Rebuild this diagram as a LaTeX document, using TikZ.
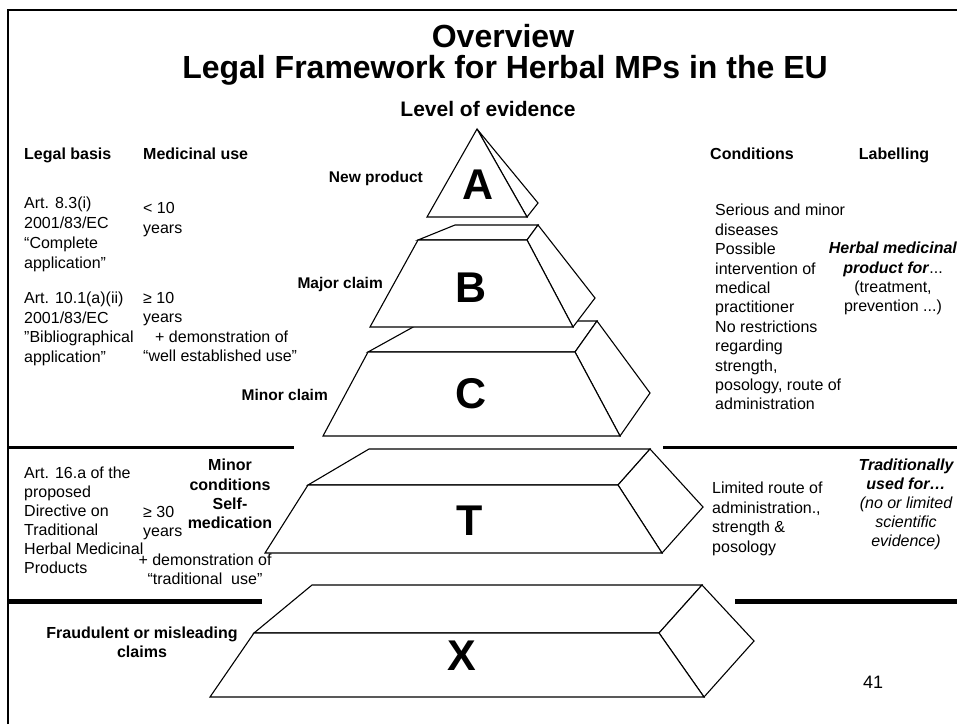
\documentclass[tikz,border=0pt]{standalone}
\usepackage{fontspec}
\setmainfont{Liberation Sans}
\usetikzlibrary{positioning}

\tikzset{
  face/.style={draw, fill=white, line width=1.1pt, line join=miter},
  rule/.style={line width=3pt},
  rulethick/.style={line width=5pt},
  ttl/.style={font=\bfseries\fontsize{32}{36}\selectfont, inner sep=0},
  hdr/.style={font=\bfseries\fontsize{16}{19.4}\selectfont, inner sep=0},
  lbl/.style={font=\bfseries\fontsize{15.5}{19}\selectfont, inner sep=0},
  txt/.style={font=\fontsize{16}{19.4}\selectfont, inner sep=0, align=left},
  grade/.style={font=\bfseries\fontsize{43}{43}\selectfont, inner sep=0}
}

\begin{document}
\begin{tikzpicture}[x=1pt, y=-1pt]
  \useasboundingbox (0,0) rectangle (957,724);
  \fill[white] (0,0) rectangle (957,724);

  % Frame
  \draw[line width=2.7pt] (8,724) -- (8,10) -- (957,10);

  % Title
  \node[ttl, anchor=base] (ttl1) at (503,47) {Overview};
  \node[ttl, anchor=base] (ttl2) at (505,78) {Legal Framework for Herbal MPs in the EU};
  \node[font=\bfseries\fontsize{21}{21}\selectfont, inner sep=0, anchor=base] (lev) at (488,116) {Level of evidence};

  % Column heads
  \node[hdr, anchor=base west] (hbasis) at (24,159) {Legal basis};
  \node[hdr, anchor=base west] (huse) at (143,159) {Medicinal use};
  \node[hdr, anchor=base west] (hcond) at (710,159) {Conditions};
  \node[hdr, anchor=base] (hlab) at (894,159) {Labelling};

  % Separators
  \draw[rule] (8,447) -- (294,447);
  \draw[rule] (663,447) -- (957,447);
  \draw[rulethick] (8,601) -- (262,601);
  \draw[rulethick] (735,601) -- (957,601);

  % Level X
  \draw[face] (254,633) -- (312,585) -- (702,585) -- (659,633) -- cycle;
  \draw[face] (659,633) -- (702,585) -- (754,641) -- (704,697) -- cycle;
  \draw[face] (254,633) -- (659,633) -- (704,697) -- (210,697) -- cycle;
  % Level T
  \draw[face] (308,485) -- (369,449) -- (650,449) -- (618,485) -- cycle;
  \draw[face] (618,485) -- (650,449) -- (703,507) -- (662,553) -- cycle;
  \draw[face] (308,485) -- (618,485) -- (662,553) -- (265,553) -- cycle;
  % Level C
  \draw[face] (368,352) -- (424,321) -- (597,321) -- (575,352) -- cycle;
  \draw[face] (575,352) -- (597,321) -- (650,393) -- (620,436) -- cycle;
  \draw[face] (368,352) -- (575,352) -- (620,436) -- (323,436) -- cycle;
  % Level B
  \draw[face] (418,240) -- (455,225) -- (538,225) -- (527,240) -- cycle;
  \draw[face] (527,240) -- (538,225) -- (595,298) -- (573,327) -- cycle;
  \draw[face] (418,240) -- (527,240) -- (573,327) -- (370,327) -- cycle;
  % Level A
  \draw[face] (477,129) -- (538,203) -- (527,217) -- cycle;
  \draw[face] (477,129) -- (427,217) -- (527,217) -- cycle;

  % Grades
  \node[grade] (gA) at (478,185) {A};
  \node[grade] (gB) at (471,288) {B};
  \node[grade] (gC) at (471,394) {C};
  \node[grade] (gT) at (470,521) {T};
  \node[grade] (gX) at (462,656) {X};

  % Claims beside the pyramid
  \node[lbl, anchor=base east] (newp) at (423,182.5) {New product};
  \node[lbl, anchor=base east] (majc) at (383,288.5) {Major claim};
  \node[lbl, anchor=base east] (minc) at (328,400.5) {Minor claim};
  \node[lbl, anchor=north, align=center, font=\bfseries\fontsize{16}{19.3}\selectfont] (minor) at (230,459)
    {Minor\\conditions\\Self-\\medication};
  \node[lbl, anchor=north, align=center, font=\bfseries\fontsize{16}{19}\selectfont] (fraud) at (142,627)
    {Fraudulent or misleading\\claims};

  % Legal basis
  \node[txt, anchor=north west, font=\fontsize{16}{20}\selectfont] (art83) at (24,197)
    {Art. 8.3(i)\\2001/83/EC\\“Complete\\application”};
  \node[txt, anchor=north west, font=\fontsize{16}{19.5}\selectfont] (art101) at (24,292)
    {Art. 10.1(a)(ii)\\2001/83/EC\\"Bibliographical\\application”};
  \node[txt, anchor=north west, font=\fontsize{16}{19}\selectfont] (art16) at (24,467)
    {Art. 16.a of the\\proposed\\Directive on\\Traditional\\Herbal Medicinal\\Products};

  % Medicinal use
  \node[txt, anchor=north west, font=\fontsize{16}{20}\selectfont] (use10) at (143,202)
    {< 10\\years};
  \node[txt, anchor=north west, font=\fontsize{16}{19.5}\selectfont] (usewe) at (143,292)
    {≥ 10\\years\\\hspace*{12pt}+ demonstration of\\“well established use”};
  \node[txt, anchor=north west, font=\fontsize{16}{19}\selectfont] (use30) at (143,506)
    {≥ 30\\years};
  \node[txt, anchor=north, align=center, font=\fontsize{16}{18.5}\selectfont] (usetr) at (205,554)
    {+ demonstration of\\“traditional~~use”};

  % Conditions
  \node[txt, anchor=north west] (condB) at (715,204)
    {Serious and minor\\diseases\\Possible\\intervention of\\medical\\practitioner\\No restrictions\\regarding\\strength,\\posology, route of\\administration};
  \node[txt, anchor=north west] (condT) at (712,482)
    {Limited route of\\administration.,\\strength \&\\posology};

  % Labelling
  \node[txt, anchor=north, align=center, font=\fontsize{16}{19.2}\selectfont] (labB) at (893,242)
    {\textbf{\textit{Herbal medicinal}}\\\textbf{\textit{product for}}...\\(treatment,\\prevention ...)};
  \node[txt, anchor=north, align=center, font=\fontsize{16}{19}\selectfont\itshape] (labT) at (906,459)
    {\textbf{Traditionally}\\\textbf{used for…}\\(no or limited\\scientific\\evidence)};

  % Page number
  \node[font=\fontsize{18}{18}\selectfont, inner sep=0, anchor=base] (pnum) at (873,688) {41};
\end{tikzpicture}
\end{document}
